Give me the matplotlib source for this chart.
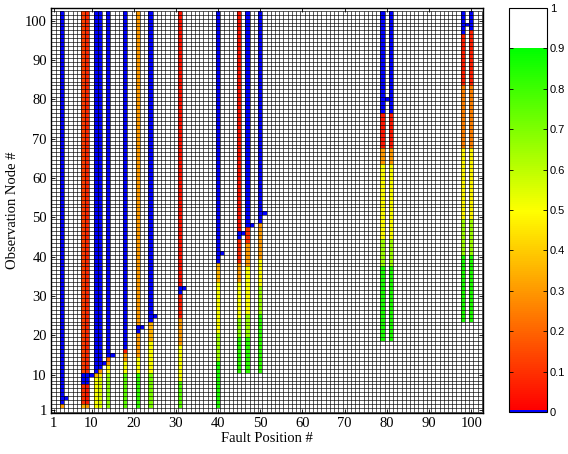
# Fault localisation map: detection index per fault position / observation node
import numpy as np
import matplotlib.pyplot as plt
from matplotlib.colors import ListedColormap

n_nodes = 102

# runs of (first row, last row, index) for the fault positions that show up
f03 = [(2, 2, 0.30), (3, 102, 0.0)]
f08 = [(2, 2, 0.35), (3, 7, 0.10), (8, 10, 0.0), (11, 102, 0.13)]
f09 = [(2, 2, 0.30), (3, 7, 0.05), (8, 10, 0.0), (11, 102, 0.08)]
f11 = [(2, 9, 0.50), (10, 10, 0.35), (11, 102, 0.0)]
f12 = [(2, 9, 0.55), (10, 10, 0.45), (11, 11, 0.30), (12, 102, 0.0)]
f14 = [(2, 10, 0.68), (11, 12, 0.50), (13, 13, 0.30), (14, 14, 0.20), (15, 102, 0.0)]
f18 = [(2, 10, 0.75), (11, 13, 0.50), (14, 15, 0.30), (16, 16, 0.05), (17, 102, 0.0)]
f21 = [(2, 10, 0.82), (11, 14, 0.50), (15, 20, 0.30), (21, 22, 0.0), (23, 102, 0.30)]
f24 = [(2, 10, 0.70), (11, 18, 0.50), (19, 23, 0.35), (24, 102, 0.0)]
f31 = [(2, 8, 0.75), (9, 17, 0.50), (18, 24, 0.30), (25, 30, 0.06), (31, 32, 0.0),
       (33, 102, 0.04)]
f40 = [(2, 13, 0.85), (14, 20, 0.65), (21, 33, 0.50), (34, 38, 0.35), (39, 102, 0.0)]
f45 = [(11, 19, 0.82), (20, 24, 0.68), (25, 33, 0.50), (34, 38, 0.30), (39, 44, 0.08),
       (45, 46, 0.0), (47, 102, 0.04)]
f47 = [(11, 19, 0.82), (20, 25, 0.65), (26, 37, 0.50), (38, 43, 0.30), (44, 47, 0.10),
       (48, 102, 0.0)]
f50 = [(11, 25, 0.82), (26, 32, 0.65), (33, 39, 0.50), (40, 48, 0.30), (49, 102, 0.0)]
f79 = [(19, 37, 0.85), (38, 44, 0.65), (45, 63, 0.50), (64, 67, 0.30), (68, 76, 0.05),
       (77, 102, 0.0)]
f81 = [(19, 37, 0.85), (38, 44, 0.65), (45, 63, 0.50), (64, 67, 0.30), (68, 76, 0.05),
       (77, 102, 0.0)]
f98 = [(24, 40, 0.85), (41, 49, 0.65), (50, 67, 0.48), (68, 83, 0.25), (84, 96, 0.06),
       (97, 102, 0.0)]
f100 = [(24, 40, 0.85), (41, 49, 0.65), (50, 67, 0.48), (68, 83, 0.25), (84, 97, 0.06),
        (98, 102, 0.0)]

fault_pos = [3, 8, 9, 11, 12, 14, 18, 21, 24, 31, 40, 45, 47, 50, 79, 81, 98, 100]
fault_runs = [f03, f08, f09, f11, f12, f14, f18, f21, f24, f31, f40, f45, f47, f50,
              f79, f81, f98, f100]

# single zero cells where fault position == observation node
diag_nodes = [4, 10, 13, 15, 22, 25, 32, 41, 46, 48, 51, 80, 99]

Z = np.ones((n_nodes, n_nodes))
for col, runs in zip(fault_pos, fault_runs):
    for r0, r1, v in runs:
        Z[r0 - 1:r1, col - 1] = v
for k in diag_nodes:
    Z[k - 1, k - 1] = 0.0

# colour map: blue for zero, red -> yellow -> green, white above 0.9
ncol = 200
cols = np.ones((ncol, 4))
cols[0] = (0, 0, 1, 1)
for i in range(1, 180):
    t = (i - 1) / 178.0
    if t < 0.55:
        cols[i] = (1, t / 0.55, 0, 1)
    else:
        cols[i] = (1 - (t - 0.55) / 0.45, 1, 0, 1)
cmap = ListedColormap(cols)

edges = np.arange(0.5, n_nodes + 1, 1.0)

fig = plt.figure(figsize=(5.68, 4.54), dpi=100)
ax = fig.add_axes([51 / 568, 1 - 413 / 454, 432 / 568, 405 / 454])
mesh = ax.pcolormesh(edges, edges, Z, cmap=cmap, vmin=0, vmax=1)
# cell borders
ax.vlines(edges, edges[0], edges[-1], colors='k', linewidth=0.45)
ax.hlines(edges, edges[0], edges[-1], colors='k', linewidth=0.45)
ax.set_xlim(0.4, 102.8)
ax.set_ylim(0.25, 103.2)

ticks = [1, 10, 20, 30, 40, 50, 60, 70, 80, 90, 100]
serif = 'Liberation Serif'
ax.set_xticks(ticks)
ax.set_yticks(ticks)
ax.set_xticklabels([str(t) for t in ticks], family=serif, fontsize=10.5)
ax.set_yticklabels([str(t) for t in ticks], family=serif, fontsize=10.5)
ax.tick_params(direction='in', top=True, right=True, length=3, width=0.6, pad=3)
ax.set_xlabel('Fault Position #', family=serif, fontsize=10.5, labelpad=1)
ax.set_ylabel('Observation Node #', family=serif, fontsize=10.5, labelpad=4)
for s in ax.spines.values():
    s.set_linewidth(1.0)

cax = fig.add_axes([509 / 568, 1 - 412 / 454, 38 / 568, 404 / 454])
cb = fig.colorbar(mesh, cax=cax, ticks=np.arange(0, 1.01, 0.1))
cb.ax.set_yticklabels(['0', '0.1', '0.2', '0.3', '0.4', '0.5', '0.6', '0.7', '0.8',
                       '0.9', '1'], family='Liberation Sans', fontsize=8)
cax.tick_params(direction='in', left=True, right=True, length=3, width=0.6, pad=2)
cb.outline.set_linewidth(0.8)

fig.savefig('out.png', dpi=100)
